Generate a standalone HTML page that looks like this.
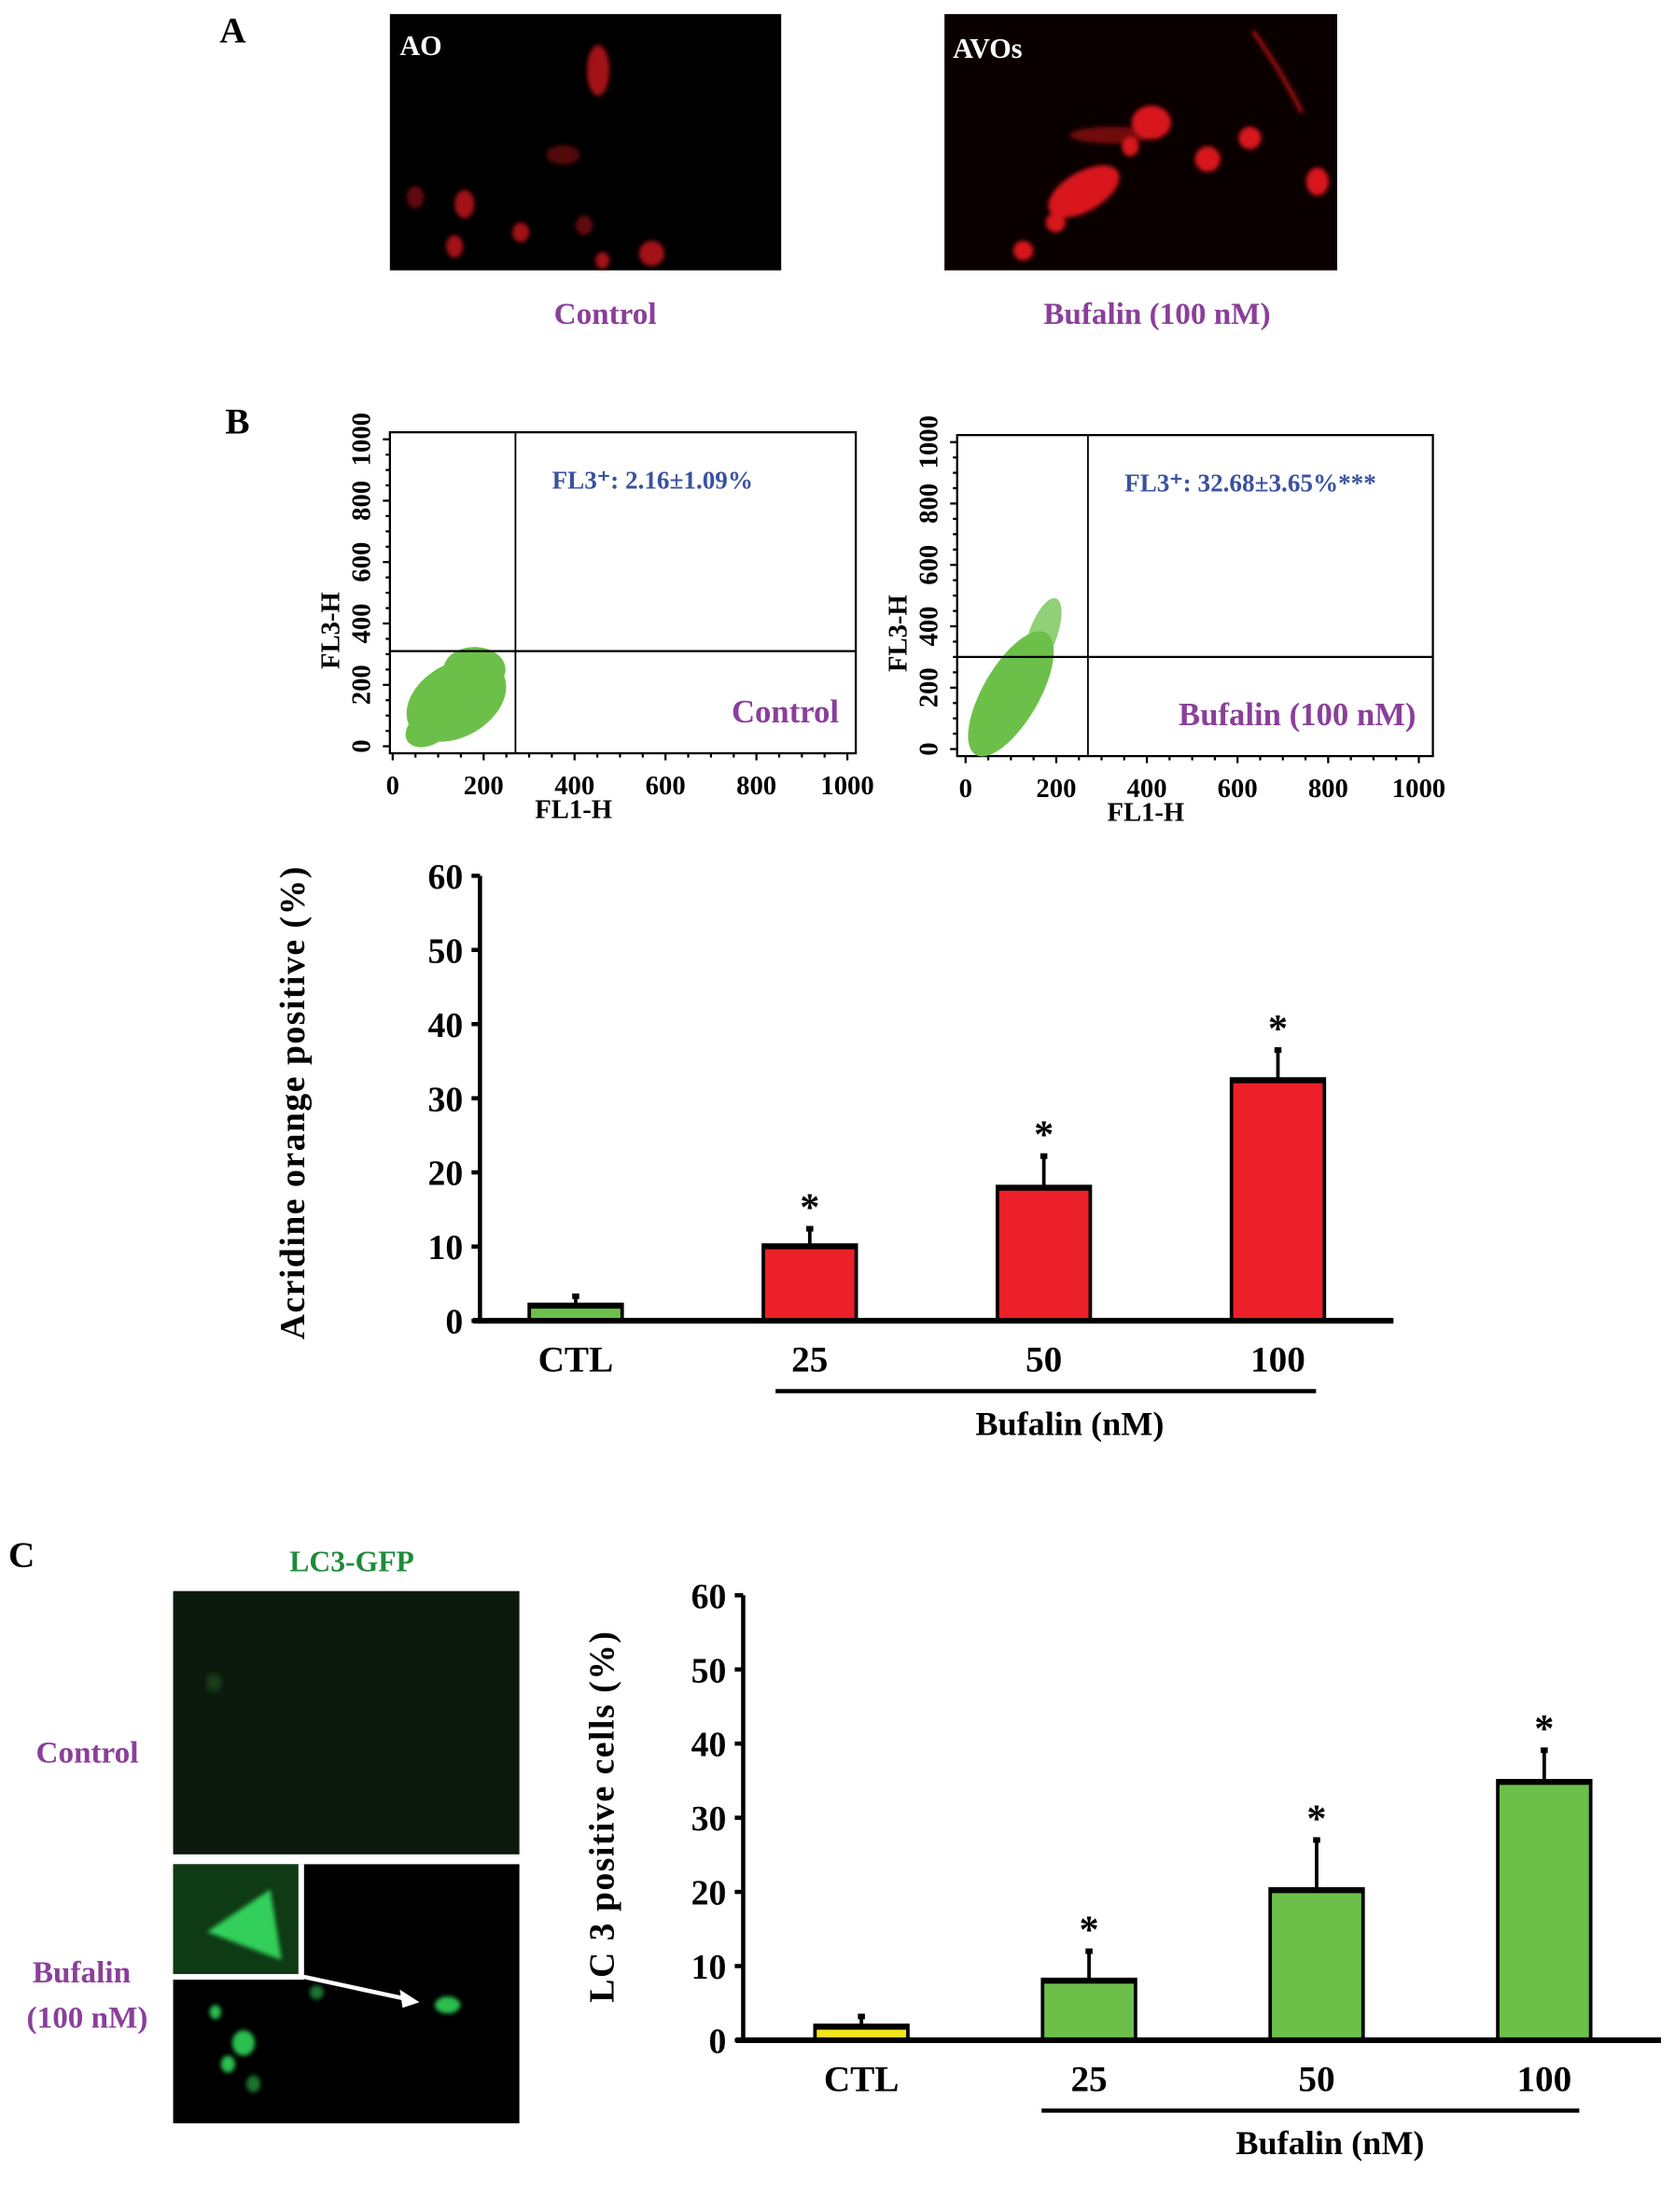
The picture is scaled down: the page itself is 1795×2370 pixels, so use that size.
<!DOCTYPE html>
<html><head><meta charset="utf-8"><style>
html,body{margin:0;padding:0;background:#fff}
svg{display:block}
text{font-family:"Liberation Serif",serif;font-weight:bold}
</style></head><body>
<svg id="fig" width="1795" height="2370" viewBox="0 0 1190 1571" preserveAspectRatio="none" xmlns="http://www.w3.org/2000/svg">
<defs>
<filter id="blur2"><feGaussianBlur stdDeviation="3"/></filter>
<filter id="blur1"><feGaussianBlur stdDeviation="1.5"/></filter>
</defs>
<!-- Panel A -->
<text x="156" y="30" font-size="26">A</text>
<g>
<rect x="277" y="10" width="278" height="182" fill="#000"/>
<g fill="#c0161a" filter="url(#blur1)" opacity="0.85">
<ellipse cx="425" cy="50" rx="8" ry="18"/><ellipse cx="400" cy="110" rx="12" ry="7" opacity="0.5"/>
<ellipse cx="295" cy="140" rx="6" ry="8" opacity="0.6"/><ellipse cx="330" cy="145" rx="7" ry="10"/>
<ellipse cx="370" cy="165" rx="6" ry="7"/><ellipse cx="323" cy="175" rx="6" ry="8"/>
<ellipse cx="428" cy="185" rx="5" ry="6"/><ellipse cx="463" cy="180" rx="9" ry="9"/>
<ellipse cx="415" cy="160" rx="6" ry="7" opacity="0.6"/>
</g>
<text x="284" y="39" font-size="20" fill="#fff">AO</text>
</g>
<g>
<rect x="671" y="10" width="279" height="182" fill="#0a0000"/>
<g fill="#d8181c" filter="url(#blur1)">
<ellipse cx="818" cy="87" rx="14" ry="12"/><ellipse cx="770" cy="136" rx="28" ry="14" transform="rotate(-30 770 136)"/>
<ellipse cx="858" cy="113" rx="9" ry="9"/><ellipse cx="888" cy="98" rx="8" ry="8"/>
<ellipse cx="803" cy="104" rx="6" ry="7"/><ellipse cx="936" cy="129" rx="8" ry="10"/>
<ellipse cx="750" cy="158" rx="7" ry="7"/><ellipse cx="727" cy="178" rx="7" ry="7"/>
<ellipse cx="790" cy="96" rx="30" ry="6" opacity="0.5"/>
<path d="M890 22 Q910 50 925 80" stroke="#a01010" stroke-width="3" fill="none"/>
</g>
<text x="677" y="41" font-size="20" fill="#fff">AVOs</text>
</g>
<text x="430" y="230" font-size="22" fill="#8a3f9a" text-anchor="middle">Control</text>
<text x="822" y="230" font-size="22" fill="#8a3f9a" text-anchor="middle">Bufalin (100 nM)</text>

<!-- Panel B scatter -->
<text x="160" y="308" font-size="26">B</text>
<g id="scat1"></g>
<g id="scat2"></g>

<!-- Bar chart B -->
<g id="chartB"></g>
<!-- Panel C -->
<text x="6" y="1113" font-size="26">C</text>
<text x="250" y="1116" font-size="21" fill="#1e8a3a" text-anchor="middle">LC3-GFP</text>
<g>
<rect x="123" y="1130" width="246" height="187" fill="#0b1a0c"/>
<ellipse cx="152" cy="1195" rx="5" ry="6" fill="#1e4a22" filter="url(#blur2)"/>
</g>
<g>
<rect x="123" y="1324" width="246" height="184" fill="#000"/>
<rect x="123" y="1324" width="89" height="78" fill="#0e3a14"/>
<path d="M147 1372 L192 1342 L200 1392 Z" fill="#33d05a" filter="url(#blur1)"/>
<rect x="212" y="1324" width="4" height="80" fill="#fff"/>
<rect x="123" y="1402" width="93" height="4" fill="#fff"/>
<line x1="216" y1="1404" x2="290" y2="1420" stroke="#fff" stroke-width="3"/>
<path d="M298 1422 L284 1413 L286 1426 Z" fill="#fff"/>
<g fill="#2bbf50" filter="url(#blur1)">
<ellipse cx="318" cy="1424" rx="9" ry="6"/><ellipse cx="153" cy="1429" rx="4" ry="5"/>
<ellipse cx="173" cy="1451" rx="8" ry="9"/><ellipse cx="162" cy="1466" rx="5" ry="6"/>
<ellipse cx="225" cy="1415" rx="5" ry="5" opacity="0.6"/><ellipse cx="180" cy="1480" rx="5" ry="6" opacity="0.6"/>
</g>
</g>
<text x="62" y="1252" font-size="22" fill="#8a3f9a" text-anchor="middle">Control</text>
<text x="58" y="1408" font-size="22" fill="#8a3f9a" text-anchor="middle">Bufalin</text>
<text x="62" y="1440" font-size="22" fill="#8a3f9a" text-anchor="middle">(100 nM)</text>
<g id="chartC"></g>
</svg>
<script>
const NS="http://www.w3.org/2000/svg";
function mk(parent,tag,attrs,txt){const e=document.createElementNS(NS,tag);for(const k in attrs)e.setAttribute(k,attrs[k]);if(txt!==undefined)e.textContent=txt;parent.appendChild(e);return e;}

// Flow plot data
const flowTicks=[0,200,400,600,800,1000];
const flowGateX=[270,270];
const flowGateY=[310,300];
const flowStats=["FL3\u207A: 2.16\u00B11.09%","FL3\u207A: 32.68\u00B13.65%***"];
const flowNames=["Control","Bufalin (100 nM)"];
const flowFrames=[{x0:277,x1:608,y0:307,y1:535,px0:279,px1:602,py0:530,py1:312},{x0:680,x1:1018,y0:309,y1:537,px0:686,px1:1008,py0:532,py1:314}];
function drawFlow(g,i){
  const f=flowFrames[i];
  const sx=v=>f.px0+(f.px1-f.px0)*v/1000, sy=v=>f.py0+(f.py1-f.py0)*v/1000;
  let r=mk(g,'rect',{x:f.x0,y:f.y0,width:f.x1-f.x0,height:f.y1-f.y0,fill:'#fff',stroke:'#000','stroke-width':1.5});
  
  const cg=mk(g,'g',{fill:'#6cc04a'});
  
  if(i===0){
    mk(cg,'ellipse',{cx:sx(140),cy:sy(150),rx:38,ry:26,transform:`rotate(-30 ${sx(140)} ${sy(150)})`});
    mk(cg,'ellipse',{cx:sx(80),cy:sy(60),rx:18,ry:12,transform:`rotate(-30 ${sx(80)} ${sy(60)})`});
    mk(cg,'ellipse',{cx:sx(180),cy:sy(250),rx:22,ry:16});
  } else {
    mk(cg,'ellipse',{cx:sx(100),cy:sy(180),rx:50,ry:20,transform:`rotate(-60 ${sx(100)} ${sy(180)})`});
    mk(cg,'ellipse',{cx:sx(40),cy:sy(60),rx:14,ry:10,transform:`rotate(-60 ${sx(40)} ${sy(60)})`});
    mk(cg,'ellipse',{cx:sx(170),cy:sy(370),rx:10,ry:28,transform:`rotate(20 ${sx(170)} ${sy(370)})`,opacity:0.75});
  }
  let lv=mk(g,'line',{x1:sx(flowGateX[i]),x2:sx(flowGateX[i]),y1:f.y0,y2:f.y1,stroke:'#000','stroke-width':1.2});
  
  let lh=mk(g,'line',{x1:f.x0,x2:f.x1,y1:sy(flowGateY[i]),y2:sy(flowGateY[i]),stroke:'#000','stroke-width':1.5});
  
  for(let k=0;k<=20;k++){const v=k*50,big=k%4===0;
    mk(g,'line',{x1:sx(v),x2:sx(v),y1:f.y1,y2:f.y1+(big?5:3),stroke:'#000','stroke-width':1.5});
    mk(g,'line',{x1:f.x0,x2:f.x0-(big?5:3),y1:sy(v),y2:sy(v),stroke:'#000','stroke-width':1.5});}
  flowTicks.forEach(v=>{
    let t=mk(g,'text',{x:sx(v),y:f.y1+29,'font-size':19,'text-anchor':'middle'},v);
    
    let ty=mk(g,'text',{x:0,y:0,'font-size':19,'text-anchor':'middle',transform:`translate(${f.x0-14},${sy(v)}) rotate(-90)`},v);
    
  });
  let xt=mk(g,'text',{x:(f.x0+f.x1)/2-35,y:f.y1+46,'font-size':19,'text-anchor':'middle'},'FL1-H');
  
  let yt=mk(g,'text',{x:0,y:0,'font-size':19,'text-anchor':'middle',transform:`translate(${f.x0-36},${sy(400)+5}) rotate(-90)`},'FL3-H');
  
  let st=mk(g,'text',{x:sx(flowGateX[i])+26,y:f.y0+40,'font-size':18,fill:'#3a52a0'},flowStats[i]);
  
  let nm=mk(g,'text',{x:f.x1-12,y:f.y1-22,'font-size':23,fill:'#8a3f9a','text-anchor':'end'},flowNames[i]);
  
}
drawFlow(document.getElementById('scat1'),0);
drawFlow(document.getElementById('scat2'),1);

// Bar charts data
const barCategories=["CTL","25","50","100"];
const aoValues=[2.2,10.2,18.1,32.6];
const aoErrors=[1.1,2.2,4.1,3.9];
const lc3Values=[2.0,8.2,20.4,35.0];
const lc3Errors=[1.2,3.8,6.6,4.1];
const yTicks=[0,10,20,30,40,50,60];

function drawBar(g,cfg,vals,errs){
  const sy=v=>cfg.yb+(cfg.yt-cfg.yb)*v/60;
  const sx=i=>cfg.cx0+i*cfg.step;
  vals.forEach((v,i)=>{
    const x=sx(i)-cfg.bw/2;
    let eb=mk(g,'line',{x1:sx(i),x2:sx(i),y1:sy(v),y2:sy(v+errs[i]),stroke:'#000','stroke-width':2.5});
    
    mk(g,'rect',{x:sx(i)-2.5,y:sy(v+errs[i])-2,width:5,height:4,fill:'#000'});
    let b=mk(g,'rect',{x:x,y:sy(v),width:cfg.bw,height:sy(0)-sy(v),fill:i===0?cfg.c0:cfg.c,stroke:'#000','stroke-width':2.5});
    
    mk(g,'line',{x1:x,x2:x+cfg.bw,y1:sy(v)+1,y2:sy(v)+1,stroke:'#000','stroke-width':4});
    if(i>0){let s=mk(g,'text',{x:sx(i),y:sy(v+errs[i])-6,'font-size':28,'text-anchor':'middle','font-weight':'normal'},'*');
      }
    let cl=mk(g,'text',{x:sx(i),y:cfg.yb+36,'font-size':26,'text-anchor':'middle'},barCategories[i]);
    
  });
  let ya=mk(g,'line',{x1:cfg.x0,x2:cfg.x0,y1:cfg.yt,y2:cfg.yb+2,stroke:'#000','stroke-width':3});
  
  let xa=mk(g,'line',{x1:cfg.x0-5,x2:cfg.x1,y1:cfg.yb,y2:cfg.yb,stroke:'#000','stroke-width':4});
  
  yTicks.forEach(v=>{
    mk(g,'line',{x1:cfg.x0-6,x2:cfg.x0,y1:sy(v),y2:sy(v),stroke:'#000','stroke-width':3});
    let t=mk(g,'text',{x:cfg.x0-12,y:sy(v)+9,'font-size':25,'text-anchor':'end'},v);
    
  });
  let ul=mk(g,'line',{x1:cfg.ul0,x2:cfg.ul1,y1:cfg.yb+50,y2:cfg.yb+50,stroke:'#000','stroke-width':3});
  
  let bt=mk(g,'text',{x:cfg.btx,y:cfg.yb+81,'font-size':24,'text-anchor':'middle'},'Bufalin  (nM)');
  
  let yt=mk(g,'text',{x:0,y:0,'font-size':25,'text-anchor':'middle','letter-spacing':1,transform:`translate(${cfg.ytx},${cfg.yty}) rotate(-90)`},cfg.ytitle);
  
}
drawBar(document.getElementById('chartB'),{x0:341,x1:990,yt:622,yb:938,cx0:409,step:166.3,bw:66,c:'#ec2028',c0:'#6cc04a',ul0:551,ul1:935,btx:760,ytx:216,yty:783,ytitle:'Acridine orange positive (%)'},aoValues,aoErrors);
drawBar(document.getElementById('chartC'),{x0:528,x1:1180,yt:1133,yb:1449,cx0:612,step:161.7,bw:66,c:'#6cc04a',c0:'#f2e61a',ul0:740,ul1:1122,btx:945,ytx:436,yty:1290,ytitle:'LC 3 positive cells (%)'},lc3Values,lc3Errors);
</script>
</body></html>
